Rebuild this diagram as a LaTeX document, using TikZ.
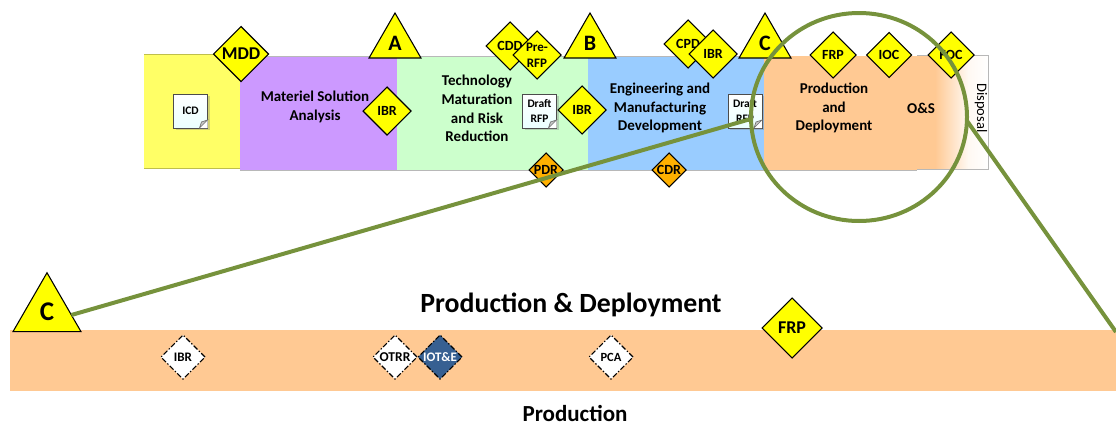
\documentclass[tikz,border=0pt]{standalone}
\usepackage{fontspec}
\setmainfont{Carlito}
\usetikzlibrary{shapes.geometric,shadows,calc}
\definecolor{yband}{HTML}{FFFF66}
\definecolor{pband}{HTML}{CC99FF}
\definecolor{gband}{HTML}{CCFFCC}
\definecolor{bband}{HTML}{99CCFF}
\definecolor{oband}{HTML}{FFC993}
\definecolor{ms}{HTML}{FFFF00}
\definecolor{rev}{HTML}{FFB000}
\definecolor{olive}{HTML}{76923C}
\definecolor{iote}{HTML}{376092}
\newcommand{\pxfont}[1]{\pgfmathsetmacro{\tmpfs}{#1*0.75}\pgfmathsetmacro{\tmpbl}{#1*1.25*0.75}\fontsize{\tmpfs pt}{\tmpbl pt}\selectfont\bfseries}
\tikzset{
  edgeline/.style={draw=black!28,line width=0.75pt},
  dia/.style={diamond,draw=black,line width=0.8pt,inner sep=0pt,outer sep=0pt,fill=ms},
  rdia/.style={dia,fill=rev},
  wdia/.style={dia,fill=white,line width=0.8pt,dash pattern=on 4pt off 1.5pt on 1pt off 1.5pt},
  bdia/.style={wdia,fill=iote},
  tri/.style={regular polygon,regular polygon sides=3,draw=black,line width=0.8pt,fill=ms,inner sep=0pt,outer sep=0pt},
  lab/.style={inner sep=0pt,align=center,text=black},
  docbox/.style={draw=black!70,line width=0.75pt,inner sep=0pt,outer sep=0pt,minimum width=25.5pt,minimum height=25.5pt,align=center,
    top color=white,bottom color=cyan!8,drop shadow={shadow xshift=1.5pt,shadow yshift=-1.5pt,opacity=.35}},
  foldmark/.style={draw=black!55,line width=0.5pt,fill=black!22},
  ring/.style={draw=olive,line width=3pt}
}
% name, x, y, size, style, font px, text
\newcommand{\dianode}[7]{\node[#5,minimum width={#4*0.75pt},minimum height={#4*0.75pt},
  label={[inner sep=0pt,align=center,font=\pxfont{#6}]center:{#7}}] (#1) at (#2,#3) {};}
\newcommand{\trinode}[6]{\node[tri,minimum size={#4*0.75pt},
  label={[inner sep=0pt,font=\pxfont{#5}]center:{#6}}] (#1) at (#2,#3) {};}
\newcommand{\docnode}[4]{\node[docbox,font=\pxfont{11.5}] (#1) at (#2,#3) {#4};
  \fill[white] ($(#1.south east)+(-6pt,0)$) -- (#1.south east) -- ($(#1.south east)+(0,6pt)$) -- cycle;
  \path[foldmark] ($(#1.south east)+(-6pt,0)$) -- ($(#1.south east)+(-4.5pt,4.5pt)$) -- ($(#1.south east)+(0,6pt)$) -- cycle;}
\begin{document}
\begin{tikzpicture}[x=0.75pt,y=-0.75pt]
\useasboundingbox (0,0) rectangle (1116,425);
% upper strip
\fill[yband] (144,54) rectangle (240,168);
\draw[edgeline,draw=black!25!yband] (144,54) -- (240,54) (144,168) -- (240,168);
\fill[pband] (240,56) rectangle (397,170);
\fill[gband] (397,56) rectangle (588,170);
\fill[bband] (588,56) rectangle (764,170);
\fill[oband] (764,56) rectangle (917,170);
\fill[oband] (917,55) rectangle (935,169);
\shade[left color=oband,right color=oband!12] (935,55) rectangle (968,169);
\shade[left color=oband!12,right color=white] (968,55) rectangle (988,169);
\draw[edgeline] (240,56) -- (764,56) (240,170) -- (917,170);
\draw[edgeline] (917,55) -- (988,55) -- (988,169) -- (917,169);
% phase labels
\node[lab,font=\pxfont{15}] (msa) at (315,107) {Materiel Solution\\Analysis};
\node[lab,font=\pxfont{15}] (tmrr) at (477,108.5) {Technology\\Maturation\\and Risk\\Reduction};
\node[lab,font=\pxfont{15}] (emd) at (660,108) {Engineering and\\Manufacturing\\Development};
\node[lab,font=\pxfont{15}] (pd) at (834,108) {Production\\and\\Deployment};
\node[lab,font=\pxfont{15}] (os) at (921,108) {O\&S};
\node[lab,rotate=-90,font={\pxfont{14.5}\mdseries}] (disp) at (981,108) {Disposal};
% documents
\docnode{icd}{190.5}{111}{ICD}
\docnode{draftA}{539.5}{111}{Draft\\RFP}
\docnode{draftB}{745}{111}{Draft\\RFP}
% milestones
\dianode{mdd}{241}{54}{55}{dia}{18}{MDD}
\dianode{ibrA}{387}{111}{48}{dia}{14}{IBR}
\dianode{cdd}{510}{46}{48}{dia}{14}{CDD}
\dianode{prerfp}{537}{55}{48}{dia}{13}{Pre-\\RFP}
\dianode{ibrB}{582}{110}{48}{dia}{14}{IBR}
\dianode{pdr}{546}{170}{34}{rdia}{14}{PDR}
\dianode{cpd}{688}{44}{48}{dia}{14}{CPD}
\dianode{ibrC}{713}{54}{48}{dia}{14}{IBR}
\dianode{cdr}{669}{170}{34}{rdia}{14}{CDR}
\dianode{frp}{833}{55}{46}{dia}{14}{FRP}
\dianode{ioc}{889}{55}{45}{dia}{14}{IOC}
\dianode{foc}{951}{55}{46}{dia}{14}{FOC}
\trinode{msA}{395}{43}{60}{22}{A}
\trinode{msB}{590}{43}{60}{22}{B}
\trinode{msC}{765}{43}{60}{22}{C}
% lower band
\fill[oband] (10,330) rectangle (1116,390.5);
\trinode{lowC}{47}{312}{78.5}{27}{C}
\dianode{lowIBR}{183}{357}{44}{wdia}{13}{IBR}
\dianode{otrr}{395}{357}{44}{wdia}{13.5}{OTRR}
\dianode{lowIOT}{440}{357}{44}{bdia}{13}{\color{white}IOT\&E}
\dianode{pca}{611}{357}{44}{wdia}{12.5}{PCA}
\dianode{lowFRP}{792}{328}{60}{dia}{18}{FRP}
\node[lab,font=\pxfont{27.8}] (title) at (571,305) {Production \& Deployment};
\node[lab,font=\pxfont{23}] (prod) at (575,413) {Production};
% magnifier
\node[ellipse,ring,minimum width={216*0.75pt},minimum height={208*0.75pt},inner sep=0pt,outer sep=0pt] (focus) at (859,117) {};
\coordinate (bandEnd) at (1116,332);
\draw[ring] (lowC.-7) -- (focus.181);
\draw[ring] (focus.-2) -- (bandEnd);
\end{tikzpicture}
\end{document}
